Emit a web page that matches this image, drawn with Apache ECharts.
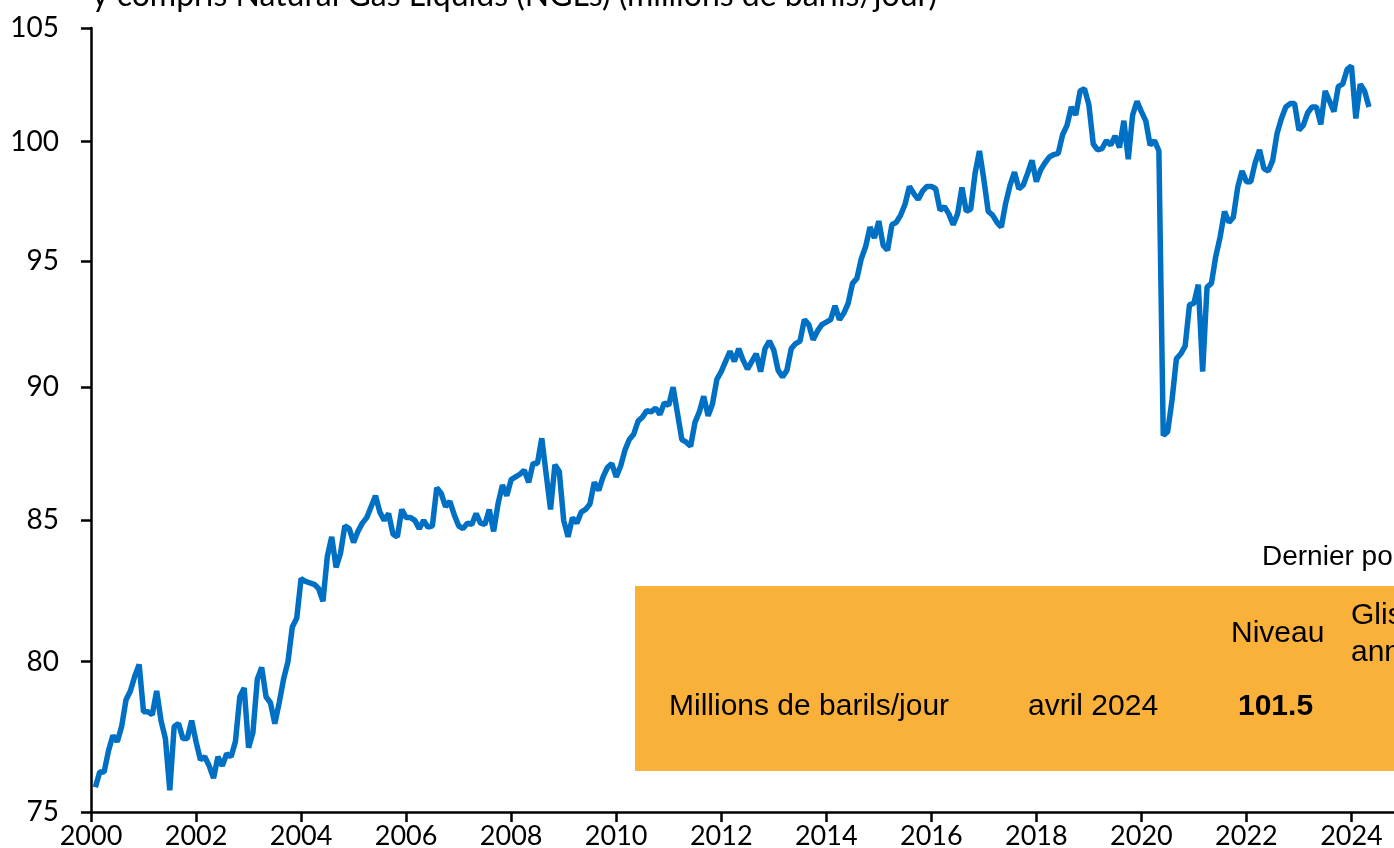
<!DOCTYPE html>
<html>
<head>
<meta charset="utf-8">
<script src="https://cdn.jsdelivr.net/npm/echarts@6.0.0/dist/echarts.min.js"></script>
<style>
  html, body { margin: 0; padding: 0; background: #fff; }
  #chart { width: 1394px; height: 848px; }
</style>
</head>
<body>
<div id="chart"></div>
<script>
// monthly values, millions of barrels/day, Jan 2000 .. Apr 2024
var startYear = 2000;
var production = [
  75.8, 76.3, 76.3, 77.0, 77.5, 77.3, 77.8, 78.7, 79.0, 79.5, 79.9, 78.3,
  78.3, 78.2, 79.0, 78.0, 77.4, 75.7, 77.8, 77.9, 77.4, 77.4, 78.0, 77.3,
  76.7, 76.8, 76.5, 76.1, 76.8, 76.5, 76.9, 76.8, 77.3, 78.8, 79.1, 77.1,
  77.6, 79.4, 79.8, 78.8, 78.6, 77.9, 78.6, 79.4, 80.0, 81.2, 81.5, 82.9,
  82.8, 82.75, 82.7, 82.55, 82.1, 83.7, 84.4, 83.3, 83.8, 84.8, 84.7, 84.2,
  84.6, 84.9, 85.1, 85.5, 85.9, 85.3, 85.0, 85.25, 84.5, 84.4, 85.4, 85.1,
  85.1, 85.0, 84.7, 85.0, 84.75, 84.8, 86.2, 86.0, 85.5, 85.7, 85.2, 84.8,
  84.7, 84.9, 84.85, 85.25, 84.9, 84.85, 85.4, 84.6, 85.6, 86.3, 85.9, 86.5,
  86.6, 86.7, 86.85, 86.4, 87.1, 87.1, 88.05, 86.7, 85.4, 87.05, 86.8, 85.0,
  84.4, 85.1, 84.9, 85.3, 85.4, 85.6, 86.4, 86.1, 86.6, 86.95, 87.1, 86.6,
  87.0, 87.6, 88.0, 88.2, 88.7, 88.85, 89.1, 89.05, 89.2, 88.95, 89.4, 89.3,
  90.0, 89.0, 88.0, 87.9, 87.75, 88.65, 89.05, 89.65, 88.9, 89.35, 90.3, 90.6,
  91.0, 91.4, 91.0, 91.5, 91.05, 90.7, 91.0, 91.3, 90.6, 91.5, 91.8, 91.45,
  90.65, 90.4, 90.65, 91.5, 91.7, 91.8, 92.65, 92.45, 91.85, 92.2, 92.45, 92.55,
  92.65, 93.2, 92.65, 92.9, 93.3, 94.1, 94.3, 95.1, 95.6, 96.4, 95.95, 96.65,
  95.65, 95.45, 96.5, 96.6, 96.9, 97.35, 98.1, 97.8, 97.55, 97.9, 98.1, 98.1,
  98.0, 97.1, 97.25, 96.95, 96.5, 96.95, 98.05, 97.05, 97.15, 98.65, 99.6, 98.4,
  97.05, 96.9, 96.6, 96.4, 97.4, 98.15, 98.7, 98.0, 98.15, 98.65, 99.2, 98.3,
  98.8, 99.1, 99.35, 99.45, 99.5, 100.3, 100.7, 101.5, 101.15, 102.2, 102.3, 101.6,
  99.9, 99.65, 99.7, 100.05, 99.85, 100.25, 99.75, 100.9, 99.25, 101.15, 101.75, 101.3,
  100.9, 99.85, 100.05, 99.6, 88.15, 88.3, 89.5, 91.1, 91.3, 91.6, 93.25, 93.3,
  94.05, 90.6, 93.95, 94.1, 95.2, 96.0, 97.05, 96.6, 96.8, 98.05, 98.75, 98.3,
  98.3, 99.1, 99.65, 98.85, 98.75, 99.2, 100.35, 101.0, 101.5, 101.65, 101.65, 100.5,
  100.7, 101.25, 101.5, 101.5, 100.75, 102.2, 101.75, 101.3, 102.4, 102.5, 103.15, 103.3,
  101.0, 102.5, 102.2, 101.5
];
var yTicks = [75, 80, 85, 90, 95, 100, 105];
var xTicks = [2000, 2002, 2004, 2006, 2008, 2010, 2012, 2014, 2016, 2018, 2020, 2022, 2024];

(function () {
  var myChart = echarts.init(document.getElementById('chart'));
  var axisFont = 'Lato';
  var boxFont = '"Liberation Sans"';

  // log scale: plot ln(value), label with exp()
  var seriesData = production.map(function (v, i) {
    return [startYear + (i + 1) / 12, Math.log(v)];
  });
  var yLog = yTicks.map(function (v) { return Math.log(v); });

  function boxText(text, x, y, bold) {
    return {
      type: 'text',
      style: {
        text: text, x: x, y: y,
        font: (bold ? 'bold ' : '') + '30px ' + boxFont,
        fill: '#000',
        verticalAlign: 'middle', textVerticalAlign: 'middle'
      }
    };
  }

  var option = {
    animation: false,
    grid: {
      left: 91,
      right: 0,
      top: 28,
      bottom: 36,
      outerBoundsMode: 'none',
      containLabel: false
    },
    xAxis: {
      type: 'value',
      min: 2000,
      max: 2024.81,
      axisLine: { show: true, lineStyle: { color: '#000', width: 2.5 } },
      axisTick: { show: true, length: 10, customValues: xTicks, lineStyle: { color: '#000', width: 2.5 } },
      axisLabel: {
        customValues: xTicks,
        margin: 11,
        color: '#000',
        fontFamily: axisFont,
        fontSize: 27,
        formatter: function (v) { return String(v); }
      },
      splitLine: { show: false }
    },
    yAxis: {
      type: 'value',
      min: Math.log(75),
      max: Math.log(105),
      axisLine: { show: true, lineStyle: { color: '#000', width: 2.5 } },
      axisTick: { show: true, length: 10, customValues: yLog, lineStyle: { color: '#000', width: 2.5 } },
      axisLabel: {
        customValues: yLog,
        margin: 32,
        color: '#000',
        fontFamily: axisFont,
        fontSize: 28,
        formatter: function (v) { return String(Math.round(Math.exp(v))); }
      },
      splitLine: { show: false }
    },
    graphic: [
      {
        type: 'text',
        style: {
          text: 'y compris Natural Gas Liquids (NGLs) (millions de barils/jour)',
          x: 92, y: -4,
          font: '32px Lato',
          fill: '#000',
          verticalAlign: 'middle', textVerticalAlign: 'middle'
        }
      },
      {
        type: 'rect',
        shape: { x: 635, y: 586, width: 800, height: 185 },
        style: { fill: '#F9B13A' }
      },
      {
        type: 'text',
        style: { text: 'Dernier point', x: 1262, y: 557, font: '28px ' + boxFont, fill: '#000', verticalAlign: 'middle', textVerticalAlign: 'middle' }
      },
      boxText('Niveau', 1231, 634),
      boxText('Glissement', 1351, 616),
      boxText('annuel', 1351, 653),
      boxText('Millions de barils/jour', 669, 707),
      boxText('avril 2024', 1028, 707),
      boxText('101.5', 1238, 707, true)
    ],
    series: [
      {
        name: 'Production',
        type: 'line',
        data: seriesData,
        showSymbol: false,
        symbol: 'none',
        lineStyle: { color: '#0070C4', width: 5.5 },
        itemStyle: { color: '#0070C4' },
        z: 3
      }
    ]
  };
  myChart.setOption(option);
})();
</script>
</body>
</html>
